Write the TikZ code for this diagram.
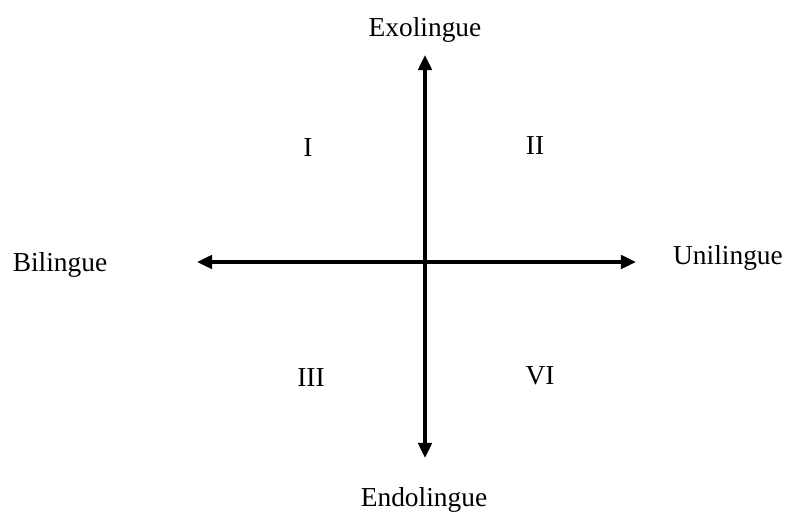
\documentclass[tikz,border=0pt]{standalone}
\usepackage{fontspec}
\setmainfont{Liberation Serif}
\usetikzlibrary{arrows.meta}
\tikzset{
  axis/.style={{Triangle[length=3.8mm, width=3.4mm]}-{Triangle[length=3.8mm, width=3.4mm]}, line width=2.4pt},
  lbl/.style={font=\fontsize{19.5}{23}\selectfont, inner sep=0pt},
  quad/.style={font=\fontsize{19.5}{23}\selectfont, inner sep=0pt}
}
\begin{document}
\begin{tikzpicture}
        \useasboundingbox (0,0) rectangle (19.8,13.2);
        \coordinate (top) at (10.625,11.825);
        \coordinate (bot) at (10.625,1.75);
        \coordinate (lft) at (4.925,6.65);
        \coordinate (rgt) at (15.9,6.65);
        \draw[axis] (bot) -- (top);
        \draw[axis] (lft) -- (rgt);
        \node[lbl] (exo) at (10.625,12.45) {Exolingue};
        \node[lbl] (endo) at (10.6,0.7) {Endolingue};
        \node[lbl] (bil) at (1.5,6.575) {Bilingue};
        \node[lbl] (uni) at (18.2,6.75) {Unilingue};
        \node[quad] (q1) at (7.7,9.5) {I};
        \node[quad] (q2) at (13.375,9.55) {II};
        \node[quad] (q3) at (7.775,3.75) {III};
        \node[quad] (q4) at (13.5,3.8) {VI};
      \end{tikzpicture}
\end{document}
